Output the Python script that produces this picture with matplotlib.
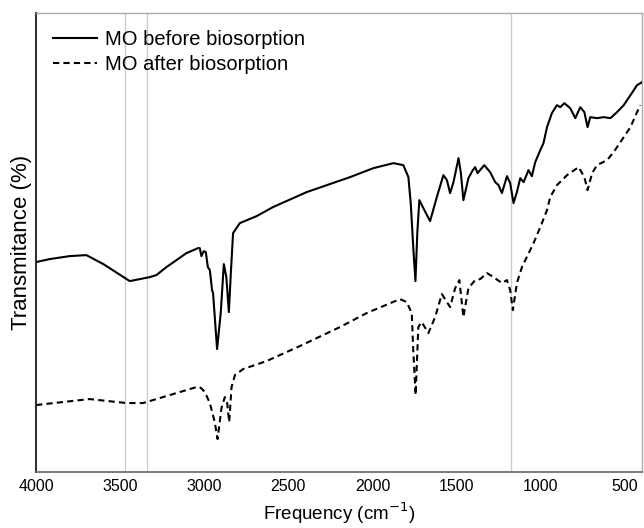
import matplotlib.pyplot as plt

plt.rcParams['font.family'] = ['Liberation Sans', 'DejaVu Sans']

# wavenumber (cm-1) and transmittance (arbitrary units)
wn_before = [4000, 3920, 3800, 3701, 3600, 3443, 3324, 3285, 3225, 3106, 3037, 3027, 3017, 3003,
             2991, 2979, 2967, 2954, 2948, 2924, 2902, 2884, 2869, 2854, 2842, 2829,
             2789, 2689, 2592, 2392, 2134, 1995, 1876, 1817, 1787, 1773, 1757, 1745,
             1734, 1722, 1698, 1658, 1618, 1579, 1558, 1539, 1519, 1489, 1475, 1460,
             1430, 1404, 1390, 1376, 1336, 1301, 1271, 1251, 1231, 1201, 1182, 1162,
             1142, 1122, 1102, 1073, 1053, 1033, 1003, 984, 963, 934, 904, 884, 860,
             825, 795, 765, 741, 722, 706, 666, 626, 586, 547, 507, 467, 428, 398]
t_before = [210, 213, 216, 217, 208, 191, 195, 197, 205, 219, 224, 224, 216, 221,
            220, 205, 202, 182, 179, 123, 160, 208, 195, 160, 200, 239,
            249, 256, 265, 280, 295, 304, 309, 307, 295, 269, 222, 191,
            239, 272, 264, 251, 275, 297, 292, 279, 290, 314, 299, 272,
            294, 302, 305, 299, 307, 300, 290, 287, 279, 296, 289, 269,
            280, 294, 290, 302, 296, 310, 322, 329, 345, 359, 367, 365, 369,
            364, 354, 365, 360, 345, 355, 354, 355, 354, 360, 367, 377, 387, 390]

wn_after = [4000, 3682, 3463, 3364, 3245, 3046, 3027, 3007, 2997, 2967, 2938, 2921,
            2898, 2878, 2864, 2852, 2838, 2818, 2769, 2630, 2432, 2194, 2035, 1837,
            1797, 1767, 1758, 1744, 1728, 1708, 1668, 1628, 1588, 1539, 1509, 1484,
            1460, 1430, 1390, 1360, 1320, 1281, 1231, 1201, 1182, 1166, 1142, 1112,
            1043, 1003, 963, 944, 904, 844, 775, 741, 722, 695, 666, 606, 567, 507,
            467, 428, 408]
t_after = [67, 73, 69, 69, 75, 85, 85, 82, 80, 69, 50, 33,
           64, 75, 69, 50, 85, 97, 103, 111, 126, 145, 159, 173,
           170, 159, 122, 77, 145, 150, 139, 155, 178, 165, 184, 192,
           155, 184, 192, 193, 199, 195, 189, 192, 182, 162, 189, 205,
           229, 245, 262, 275, 287, 297, 305, 295, 282, 299, 307, 312, 320, 335,
           345, 360, 367]

marker_lines = [3473, 3341, 1177]
ticks = [4000, 3500, 3000, 2500, 2000, 1500, 1000, 500]

fig = plt.figure(figsize=(6.44, 5.28), dpi=100)
ax = fig.add_axes([0.056, 0.106, 0.941, 0.869])

for w in marker_lines:
    ax.axvline(w, color='#cccccc', lw=1, zorder=1)

ax.plot(wn_before, t_before, color='black', lw=1.5, label='MO before biosorption', zorder=3)
ax.plot(wn_after, t_after, color='black', lw=1.5, ls=(0, (3, 2)), label='MO after biosorption', zorder=3)

ax.set_xlim(4000, 398)
ax.set_ylim(0, 459)
ax.set_xticks(ticks)
ax.set_xticklabels([str(t) for t in ticks])
ax.set_yticks([])
ax.tick_params(axis='x', length=0, pad=5, labelsize=11.5)

ax.spines['left'].set_color('#333333')
ax.spines['left'].set_linewidth(1.5)
ax.spines['bottom'].set_color('#666666')
ax.spines['bottom'].set_linewidth(1.2)
for s in ['top', 'right']:
    ax.spines[s].set_color('#aaaaaa')
    ax.spines[s].set_linewidth(1)

ax.set_xlabel('Frequency (cm$^{-1}$)', fontsize=13.5, labelpad=5)
ax.set_ylabel('Transmitance (%)', fontsize=16, labelpad=3)

ax.legend(loc='upper left', frameon=False, fontsize=14.5, handlelength=2.2,
          handletextpad=0.35, labelspacing=0.3, borderaxespad=0.45,
          bbox_to_anchor=(0.0, 1.0))

fig.savefig('out.png', dpi=100)
